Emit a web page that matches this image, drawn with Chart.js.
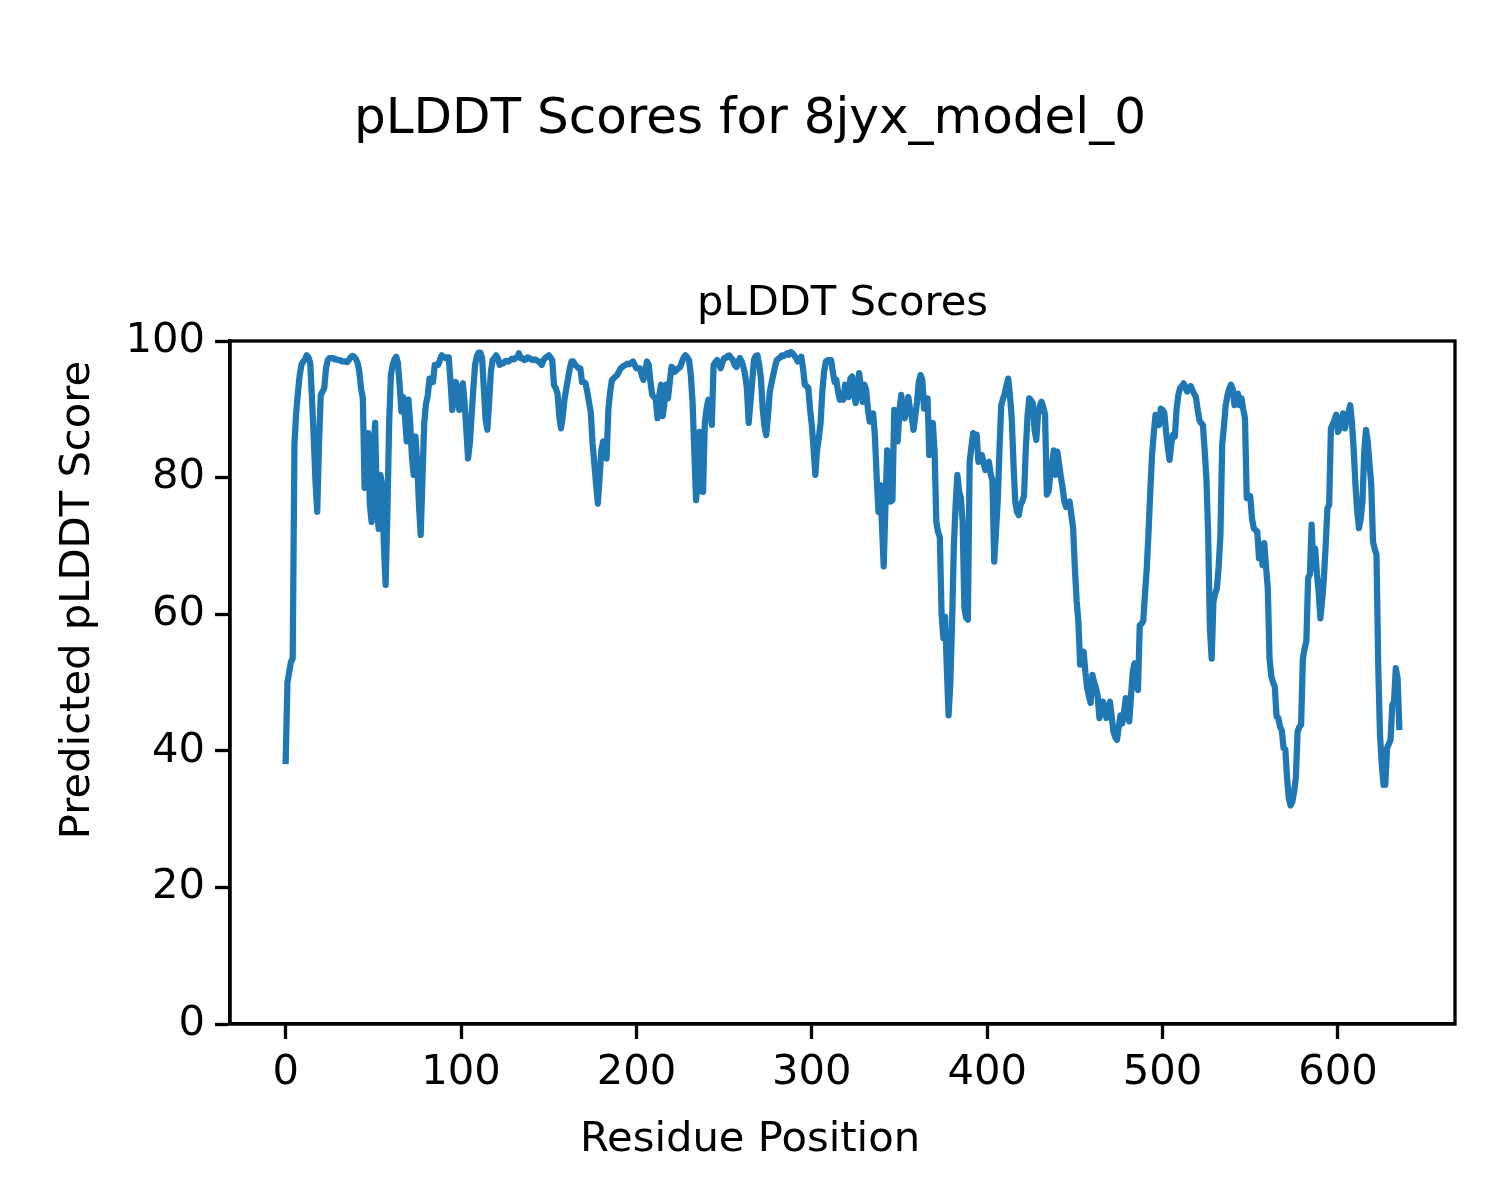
<!DOCTYPE html>
<html>
<head>
<meta charset="utf-8">
<script src="https://cdn.jsdelivr.net/npm/chart.js@4"></script>
<style>
  html, body { margin: 0; padding: 0; background: #fff; }
  #plddtChart { display: block; }
</style>
</head>
<body>
<canvas id="plddtChart" width="1500" height="1200"></canvas>
<script>
var figTitle = 'pLDDT Scores for 8jyx_model_0';
var axTitle = 'pLDDT Scores';
var xLabel = 'Residue Position';
var yLabel = 'Predicted pLDDT Score';

var xTicks = [0, 100, 200, 300, 400, 500, 600];
var yTicks = [0, 20, 40, 60, 80, 100];

// one score per residue (residue 0 .. 635)
var scores = [
  38.5, 50, 51.5, 53, 53.5, 85, 89.5, 92.5, 95, 96.5,
  97, 97.3, 97.9, 97.6, 96.8, 91.6, 85.8, 79.4, 75, 85,
  92.1, 92.6, 93.1, 96, 97.2, 97.5, 97.5, 97.5, 97.3, 97.3,
  97.2, 97.2, 97, 97, 97, 96.9, 97.2, 97.6, 97.8, 97.7,
  97.4, 96.8, 95.5, 93, 91.6, 78.5, 82, 86.5, 76, 73.5,
  84, 88, 76, 72.5, 80.4, 79, 70, 64.3, 75, 88,
  95, 96.5, 97.3, 97.7, 96.8, 93.5, 89.7, 91.8, 89, 85.3,
  91.4, 88, 83, 80.4, 86, 82, 76, 71.6, 80, 88,
  90.8, 92, 94.5, 94.5, 94, 96.5, 96.5, 96.5, 97.3, 97.9,
  97.7, 97.5, 97.6, 97.6, 94, 89.9, 92, 94, 92, 89.9,
  93, 93.8, 91, 87, 82.8, 85, 89, 93, 96.5, 97.8,
  98.3, 98.3, 97.5, 93, 88.5, 87, 91, 95.5, 97.2, 97.5,
  97.9, 97.5, 96.5, 96.8, 96.7, 97, 97.1, 97, 97.2, 97.4,
  97.3, 97.5, 97.6, 98.2, 97.5, 97.5, 97.2, 97.3, 97.6, 97.5,
  97.3, 97.2, 97.3, 97.2, 97, 96.8, 96.5, 97.2, 97.5, 97.7,
  97.9, 97.6, 97.2, 93.5, 93.1, 92.3, 89, 87.2, 89, 91.5,
  93, 94.5, 96, 97, 97, 96.5, 96.3, 96, 96, 94,
  94, 93.8, 92.5, 91, 89.5, 85, 82, 79, 76.2, 80,
  84, 85.3, 83, 82.8, 90, 92.5, 94.3, 94.5, 94.8, 95,
  95.5, 96, 96.2, 96.4, 96.5, 96.7, 96.6, 96.8, 97, 96.5,
  96, 96, 96, 95, 94.3, 95.5, 97, 96.5, 94, 92.1,
  91.8, 91.6, 88.7, 92, 93.6, 89, 91, 93.6, 91.6, 94,
  96.2, 96, 95.5, 95.8, 96, 96.2, 97, 97.6, 97.9, 97.6,
  97.2, 95, 91.1, 84, 76.7, 80, 86.7, 78, 77.9, 88,
  90.1, 91.4, 90, 87.7, 96.5, 96.9, 97.2, 96.8, 96, 96.8,
  97.5, 97.5, 97.8, 97.9, 97.5, 97.2, 96.5, 96.2, 97, 97.5,
  97, 96.2, 95, 93, 88, 91, 94, 97.2, 97.8, 97.9,
  96.5, 94.5, 90.1, 87.5, 86.2, 89, 92.5, 93.8, 95, 96.2,
  97.2, 97.4, 97.6, 97.9, 97.8, 98, 98.2, 98, 98.4, 98.2,
  97.9, 97.5, 97, 97.4, 97.7, 96, 93.6, 93.4, 93.1, 90,
  87.7, 84.3, 80.4, 84, 85.8, 88, 92.6, 95.5, 97, 97.2,
  97.2, 97.2, 95.5, 94, 94.3, 92.5, 91.4, 91.5, 91.4, 93.6,
  92.5, 91.8, 94.5, 94.8, 92.5, 90.9, 93, 95.3, 93, 91.1,
  93.6, 92.8, 90, 88.2, 88.8, 89.4, 86, 80, 75, 78.9,
  73, 67, 76, 84, 78.5, 76.5, 76.7, 89.9, 88, 85.3,
  90, 92.1, 88.9, 88.7, 90, 91.8, 90, 88.9, 87, 89,
  91.1, 94, 95, 94.3, 90.1, 91, 91.6, 83.3, 86, 88,
  83.8, 73.5, 72, 71.3, 60, 56.5, 59.6, 52, 45.2, 50,
  58.9, 70, 76, 80.4, 78, 77, 73.5, 60.9, 59.5, 59.2,
  82.3, 84.5, 86.5, 86.3, 86.3, 82.3, 83, 83.3, 82, 81.1,
  82, 82.3, 80.5, 79.6, 67.7, 72, 76.5, 84, 90.6, 91.5,
  92.3, 93.5, 94.5, 92, 88.7, 82, 76.5, 75, 74.5, 76,
  76.5, 77.3, 84, 89, 91.6, 91.3, 90.9, 87, 85.5, 89.2,
  90.5, 91.1, 90.3, 89.2, 77.5, 78, 80.4, 82, 84, 80.4,
  83.8, 82, 80.1, 78.5, 76.5, 75.7, 76, 76.5, 74.5, 72.6,
  66.7, 62, 58.9, 52.6, 53.5, 54.5, 51.5, 49.2, 48, 47,
  51.1, 50, 49.2, 48, 44.8, 46, 47.2, 46, 44.8, 46,
  47.2, 45, 42.8, 42, 41.6, 43.5, 45.2, 44, 45.5, 47.7,
  46, 44.3, 48, 51.6, 52.8, 50, 48.9, 58.4, 58.6, 59,
  63, 66.7, 72, 78, 83.3, 86.5, 89.2, 88.5, 87.7, 90.1,
  89.9, 89.5, 86.7, 84.5, 82.6, 85, 86.3, 86, 90, 92.1,
  93.1, 93.4, 93.8, 93.2, 92.6, 93, 93.4, 92.8, 92.3, 91.8,
  90, 88.4, 88, 87.7, 84, 79.9, 71.6, 57.9, 53.5, 61.8,
  63, 63.8, 67, 71.6, 84.8, 87.5, 90.6, 92, 93, 93.6,
  93, 90.6, 91.5, 92.3, 90.6, 91.6, 90, 88.7, 77, 77,
  77.3, 74, 72.6, 72.3, 72.1, 68.2, 70.2, 67.2, 70.4, 67,
  63.8, 53.5, 51, 50, 49.4, 45, 44.8, 43.5, 43, 40.4,
  40.2, 36, 33, 32, 32.5, 34, 36, 42.8, 43.5, 43.8,
  53.5, 55, 56, 65.3, 65.8, 73.1, 66.7, 69.6, 66, 63.3,
  59.4, 62, 65.3, 70, 75.5, 76, 87.2, 87.8, 88.4, 89.2,
  86.7, 87.2, 88.5, 89.4, 87.2, 88.7, 89.5, 90.6, 88, 84,
  78.9, 75, 72.6, 74, 76.5, 83.8, 87, 85.3, 82, 78.9,
  70.6, 69.5, 68.7, 52.1, 42.3, 38, 35, 35, 40.4, 41,
  41.6, 46.7, 47.2, 52.1, 50.6, 43.5
];

var residues = scores.map(function (s, i) { return i; });
var points = residues.map(function (r, i) { return { x: r, y: scores[i] }; });

var font = 'DejaVu Sans';
var lw = 3.33;

// titles and the full axes box, drawn like matplotlib does
var figText = {
    id: 'figText',
    afterDraw: function (chart) {
        var ctx = chart.ctx;
        var a = chart.chartArea;
        ctx.save();
        ctx.strokeStyle = '#000';
        ctx.lineWidth = lw;
        ctx.strokeRect(a.left, a.top, a.right - a.left, a.bottom - a.top);
        ctx.fillStyle = '#000';
        ctx.textAlign = 'center';
        ctx.textBaseline = 'middle';
        ctx.font = '50px "' + font + '"';
        ctx.fillText(figTitle, 750, 120);
        ctx.font = '41.7px "' + font + '"';
        ctx.fillText(axTitle, (a.left + a.right) / 2, 304);
        ctx.fillText(xLabel, 750, 1140);
        ctx.translate(78, 600);
        ctx.rotate(-Math.PI / 2);
        ctx.fillText(yLabel, 0, 0);
        ctx.restore();
    }
};

var config = {
    type: 'line',
    data: {
        datasets: [{
            data: points,
            borderColor: '#1f77b4',
            borderWidth: 6.25,
            borderJoinStyle: 'round',
            borderCapStyle: 'square',
            pointRadius: 0,
            tension: 0,
            fill: false
        }]
    },
    options: {
        responsive: false,
        animation: false,
        devicePixelRatio: 1,
        layout: { padding: { left: 100, right: 45, top: 341, bottom: 106 } },
        plugins: {
            legend: { display: false },
            tooltip: { enabled: false },
            title: { display: false }
        },
        scales: {
            x: {
                type: 'linear',
                min: -31.75,
                max: 666.75,
                afterBuildTicks: function (scale) {
                    scale.ticks = xTicks.map(function (v) { return { value: v }; });
                },
                afterFit: function (scale) { scale.height = 70; },
                grid: {
                    drawOnChartArea: false,
                    drawTicks: true,
                    tickLength: 15,
                    tickWidth: lw,
                    tickColor: '#000'
                },
                border: { display: true, color: '#000', width: lw },
                ticks: {
                    color: '#000',
                    font: { family: font, size: 41.7 },
                    padding: 9,
                    maxRotation: 0
                }
            },
            y: {
                type: 'linear',
                min: 0,
                max: 100,
                afterBuildTicks: function (scale) {
                    scale.ticks = yTicks.map(function (v) { return { value: v }; });
                },
                afterFit: function (scale) { scale.width = 130; },
                grid: {
                    drawOnChartArea: false,
                    drawTicks: true,
                    tickLength: 15,
                    tickWidth: lw,
                    tickColor: '#000'
                },
                border: { display: true, color: '#000', width: lw },
                ticks: {
                    color: '#000',
                    font: { family: font, size: 41.7 },
                    padding: 10
                }
            }
        }
    },
    plugins: [figText]
};

var plddtChart = new Chart(document.getElementById('plddtChart'), config);
</script>
</body>
</html>
